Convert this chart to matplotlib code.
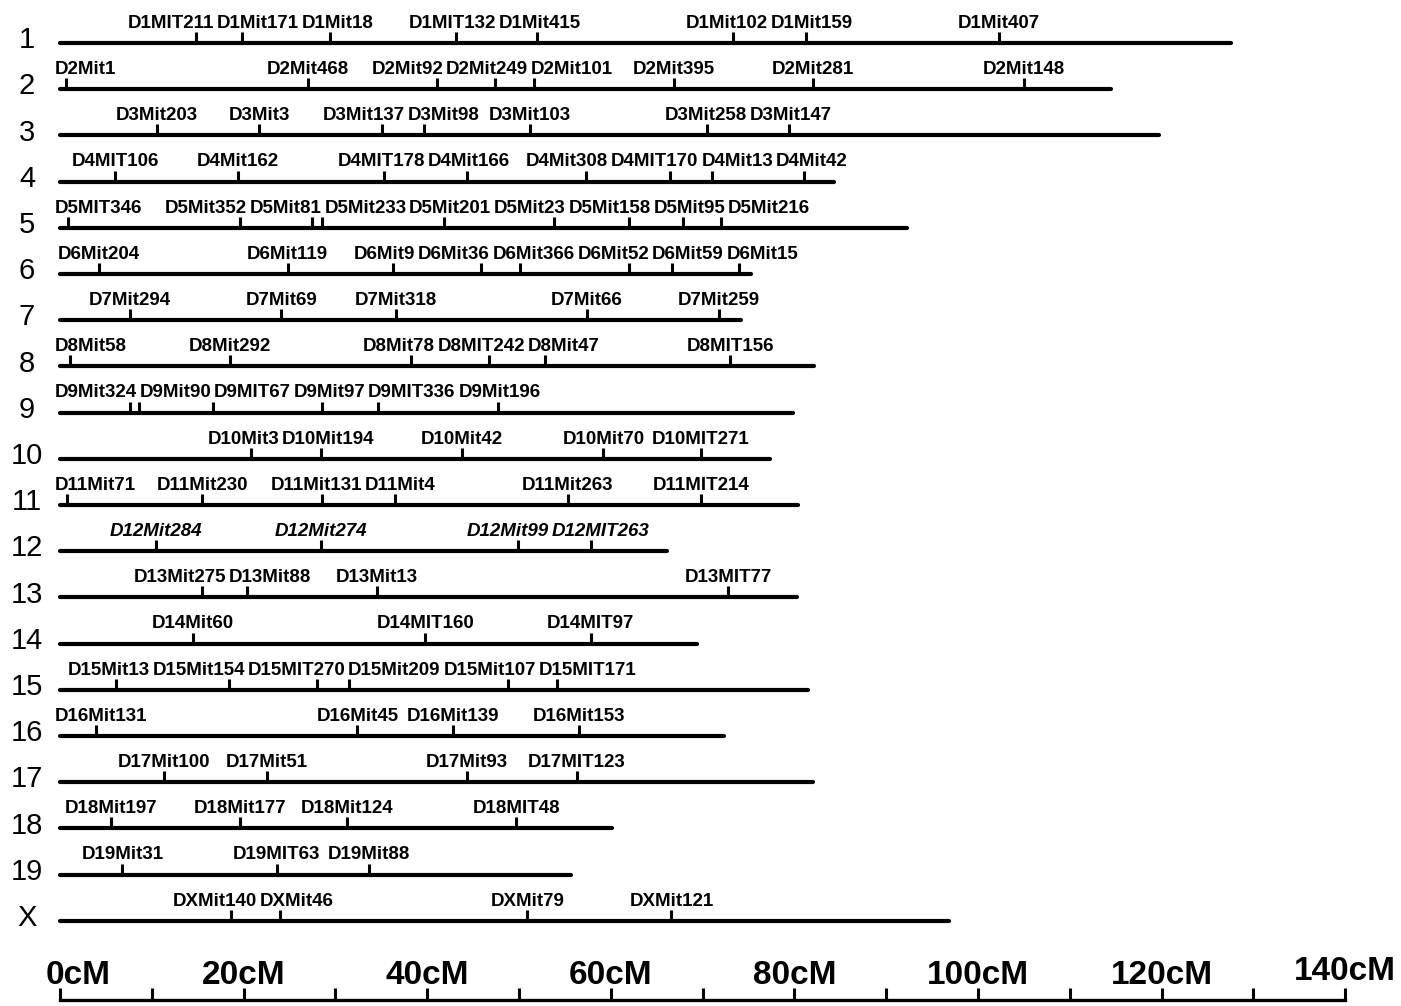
import matplotlib
matplotlib.use('Agg')
import matplotlib.pyplot as plt

CHR_NAMES = ['1', '2', '3', '4', '5', '6', '7', '8', '9', '10',
             '11', '12', '13', '14', '15', '16', '17', '18', '19', 'X']

CHR_LENGTH_CM = [127.6, 114.5, 119.7, 84.3, 92.3, 75.3, 74.2, 82.1, 79.8, 77.3,
                 80.4, 66.1, 80.3, 69.4, 81.5, 72.3, 82.0, 60.1, 55.7, 96.8]

MARKER_NAMES = [
    ['D1MIT211', 'D1Mit171', 'D1Mit18', 'D1MIT132', 'D1Mit415', 'D1Mit102', 'D1Mit159', 'D1Mit407'],
    ['D2Mit1', 'D2Mit468', 'D2Mit92', 'D2Mit249', 'D2Mit101', 'D2Mit395', 'D2Mit281', 'D2Mit148'],
    ['D3Mit203', 'D3Mit3', 'D3Mit137', 'D3Mit98', 'D3Mit103', 'D3Mit258', 'D3Mit147'],
    ['D4MIT106', 'D4Mit162', 'D4MIT178', 'D4Mit166', 'D4Mit308', 'D4MIT170', 'D4Mit13', 'D4Mit42'],
    ['D5MIT346', 'D5Mit352', 'D5Mit81', 'D5Mit233', 'D5Mit201', 'D5Mit23', 'D5Mit158', 'D5Mit95', 'D5Mit216'],
    ['D6Mit204', 'D6Mit119', 'D6Mit9', 'D6Mit36', 'D6Mit366', 'D6Mit52', 'D6Mit59', 'D6Mit15'],
    ['D7Mit294', 'D7Mit69', 'D7Mit318', 'D7Mit66', 'D7Mit259'],
    ['D8Mit58', 'D8Mit292', 'D8Mit78', 'D8MIT242', 'D8Mit47', 'D8MIT156'],
    ['D9Mit324', 'D9Mit90', 'D9MIT67', 'D9Mit97', 'D9MIT336', 'D9Mit196'],
    ['D10Mit3', 'D10Mit194', 'D10Mit42', 'D10Mit70', 'D10MIT271'],
    ['D11Mit71', 'D11Mit230', 'D11Mit131', 'D11Mit4', 'D11Mit263', 'D11MIT214'],
    ['D12Mit284', 'D12Mit274', 'D12Mit99', 'D12MIT263'],
    ['D13Mit275', 'D13Mit88', 'D13Mit13', 'D13MIT77'],
    ['D14Mit60', 'D14MIT160', 'D14MIT97'],
    ['D15Mit13', 'D15Mit154', 'D15MIT270', 'D15Mit209', 'D15Mit107', 'D15MIT171'],
    ['D16Mit131', 'D16Mit45', 'D16Mit139', 'D16Mit153'],
    ['D17Mit100', 'D17Mit51', 'D17Mit93', 'D17MIT123'],
    ['D18Mit197', 'D18Mit177', 'D18Mit124', 'D18MIT48'],
    ['D19Mit31', 'D19MIT63', 'D19Mit88'],
    ['DXMit140', 'DXMit46', 'DXMit79', 'DXMit121'],
]

MARKER_CM = [
    [14.8, 19.8, 29.4, 43.1, 52.0, 73.3, 81.3, 102.3],
    [0.7, 27.0, 41.1, 47.4, 51.6, 66.9, 82.0, 105.0],
    [10.6, 21.7, 35.1, 39.7, 51.2, 70.5, 79.4],
    [6.0, 19.4, 35.3, 44.3, 57.3, 66.4, 71.0, 81.0],
    [0.9, 19.6, 27.5, 28.5, 41.8, 53.8, 62.0, 67.9, 72.0],
    [4.2, 24.8, 36.3, 45.9, 50.1, 62.0, 66.7, 74.0],
    [7.6, 24.1, 36.6, 57.4, 71.8],
    [1.1, 18.5, 38.2, 46.7, 52.8, 73.0],
    [7.6, 8.6, 16.7, 28.5, 34.6, 47.7],
    [20.8, 28.4, 43.8, 59.2, 69.8],
    [0.8, 15.5, 28.5, 36.5, 55.3, 69.8],
    [10.5, 28.4, 49.9, 57.8],
    [15.5, 20.4, 34.5, 72.8],
    [14.5, 39.8, 57.8],
    [6.1, 18.4, 28.0, 31.5, 48.8, 54.1],
    [3.9, 32.4, 42.8, 56.5],
    [11.3, 22.5, 44.3, 56.3],
    [5.6, 19.6, 31.3, 49.7],
    [6.8, 23.6, 33.7],
    [18.6, 24.0, 50.9, 66.6],
]

ITALIC_CHR = ['12']

SCALE_TICKS = list(range(0, 141, 10))
SCALE_LABELS = [0, 20, 40, 60, 80, 100, 120, 140]

FONT = ['Liberation Sans', 'DejaVu Sans']

# layout (pixels of the 1401x1006 output)
PX_PER_CM = 9.18
ORIGIN_PX = 60
ROW_PX = 46.2
FIRST_ROW_PX = 43
AXIS_ROW = (1000 - FIRST_ROW_PX) / ROW_PX


def spread_labels(centers, widths, gap, min_left):
    # push overlapping labels apart, keep each group as close to its ticks as possible
    clusters = []
    for i, (c, w) in enumerate(zip(centers, widths)):
        clusters.append({'idx': [i], 'offs': [0.0], 'width': w,
                         'left': max(c - w / 2, min_left)})
        while len(clusters) > 1:
            a, b = clusters[-2], clusters[-1]
            if a['left'] + a['width'] + gap <= b['left']:
                break
            offs = a['offs'] + [a['width'] + gap + o for o in b['offs']]
            idx = a['idx'] + b['idx']
            left = sum(centers[j] - widths[j] / 2 - o for j, o in zip(idx, offs)) / len(idx)
            clusters[-2:] = [{'idx': idx, 'offs': offs,
                              'width': a['width'] + gap + b['width'],
                              'left': max(left, min_left)}]
    out = [0.0] * len(centers)
    for cl in clusters:
        for j, o in zip(cl['idx'], cl['offs']):
            out[j] = cl['left'] + o + widths[j] / 2
    return out


def main():
    fig = plt.figure(figsize=(14.01, 10.06), dpi=100)
    ax = fig.add_axes([0, 0, 1, 1])
    ax.set_xlim(-ORIGIN_PX / PX_PER_CM, (1401 - ORIGIN_PX) / PX_PER_CM)
    ax.set_ylim((1006 - FIRST_ROW_PX) / ROW_PX, -FIRST_ROW_PX / ROW_PX)
    ax.axis('off')
    renderer = fig.canvas.get_renderer()

    for row, (name, length, names, cms) in enumerate(zip(CHR_NAMES, CHR_LENGTH_CM,
                                                         MARKER_NAMES, MARKER_CM)):
        ax.plot([0, length], [row, row], color='black', lw=3.0, solid_capstyle='round')
        ax.vlines(cms, row, row - 0.24, color='black', lw=2.2)
        ax.text(-3.6, row - 0.06, name, ha='center', va='center',
                fontsize=21, family=FONT)

        style = 'italic' if name in ITALIC_CHR else 'normal'
        texts = [ax.text(c, row - 0.33, m, ha='center', va='baseline', fontsize=13.5,
                         fontweight='bold', fontstyle=style, family=FONT)
                 for m, c in zip(names, cms)]
        widths = [t.get_window_extent(renderer).width / PX_PER_CM for t in texts]
        centers = spread_labels(cms, widths, gap=0.3, min_left=-0.6)
        for t, c in zip(texts, centers):
            t.set_x(c)

    # scale bar
    ax.plot([0, 140], [AXIS_ROW, AXIS_ROW], color='black', lw=2.4)
    ax.vlines(SCALE_TICKS, AXIS_ROW, AXIS_ROW - 0.27, color='black', lw=2.2)
    for v in SCALE_LABELS:
        y = AXIS_ROW - 0.34 - (0.1 if v == 140 else 0)
        if v == 0:
            ax.text(v - 1.6, y, f'{v}cM', ha='left', va='baseline', fontsize=24,
                    fontweight='bold', family=FONT)
        else:
            ax.text(v, y, f'{v}cM', ha='center', va='baseline', fontsize=24,
                    fontweight='bold', family=FONT)

    fig.savefig('out.png', dpi=100, facecolor='white')
    plt.close(fig)


if __name__ == '__main__':
    main()
